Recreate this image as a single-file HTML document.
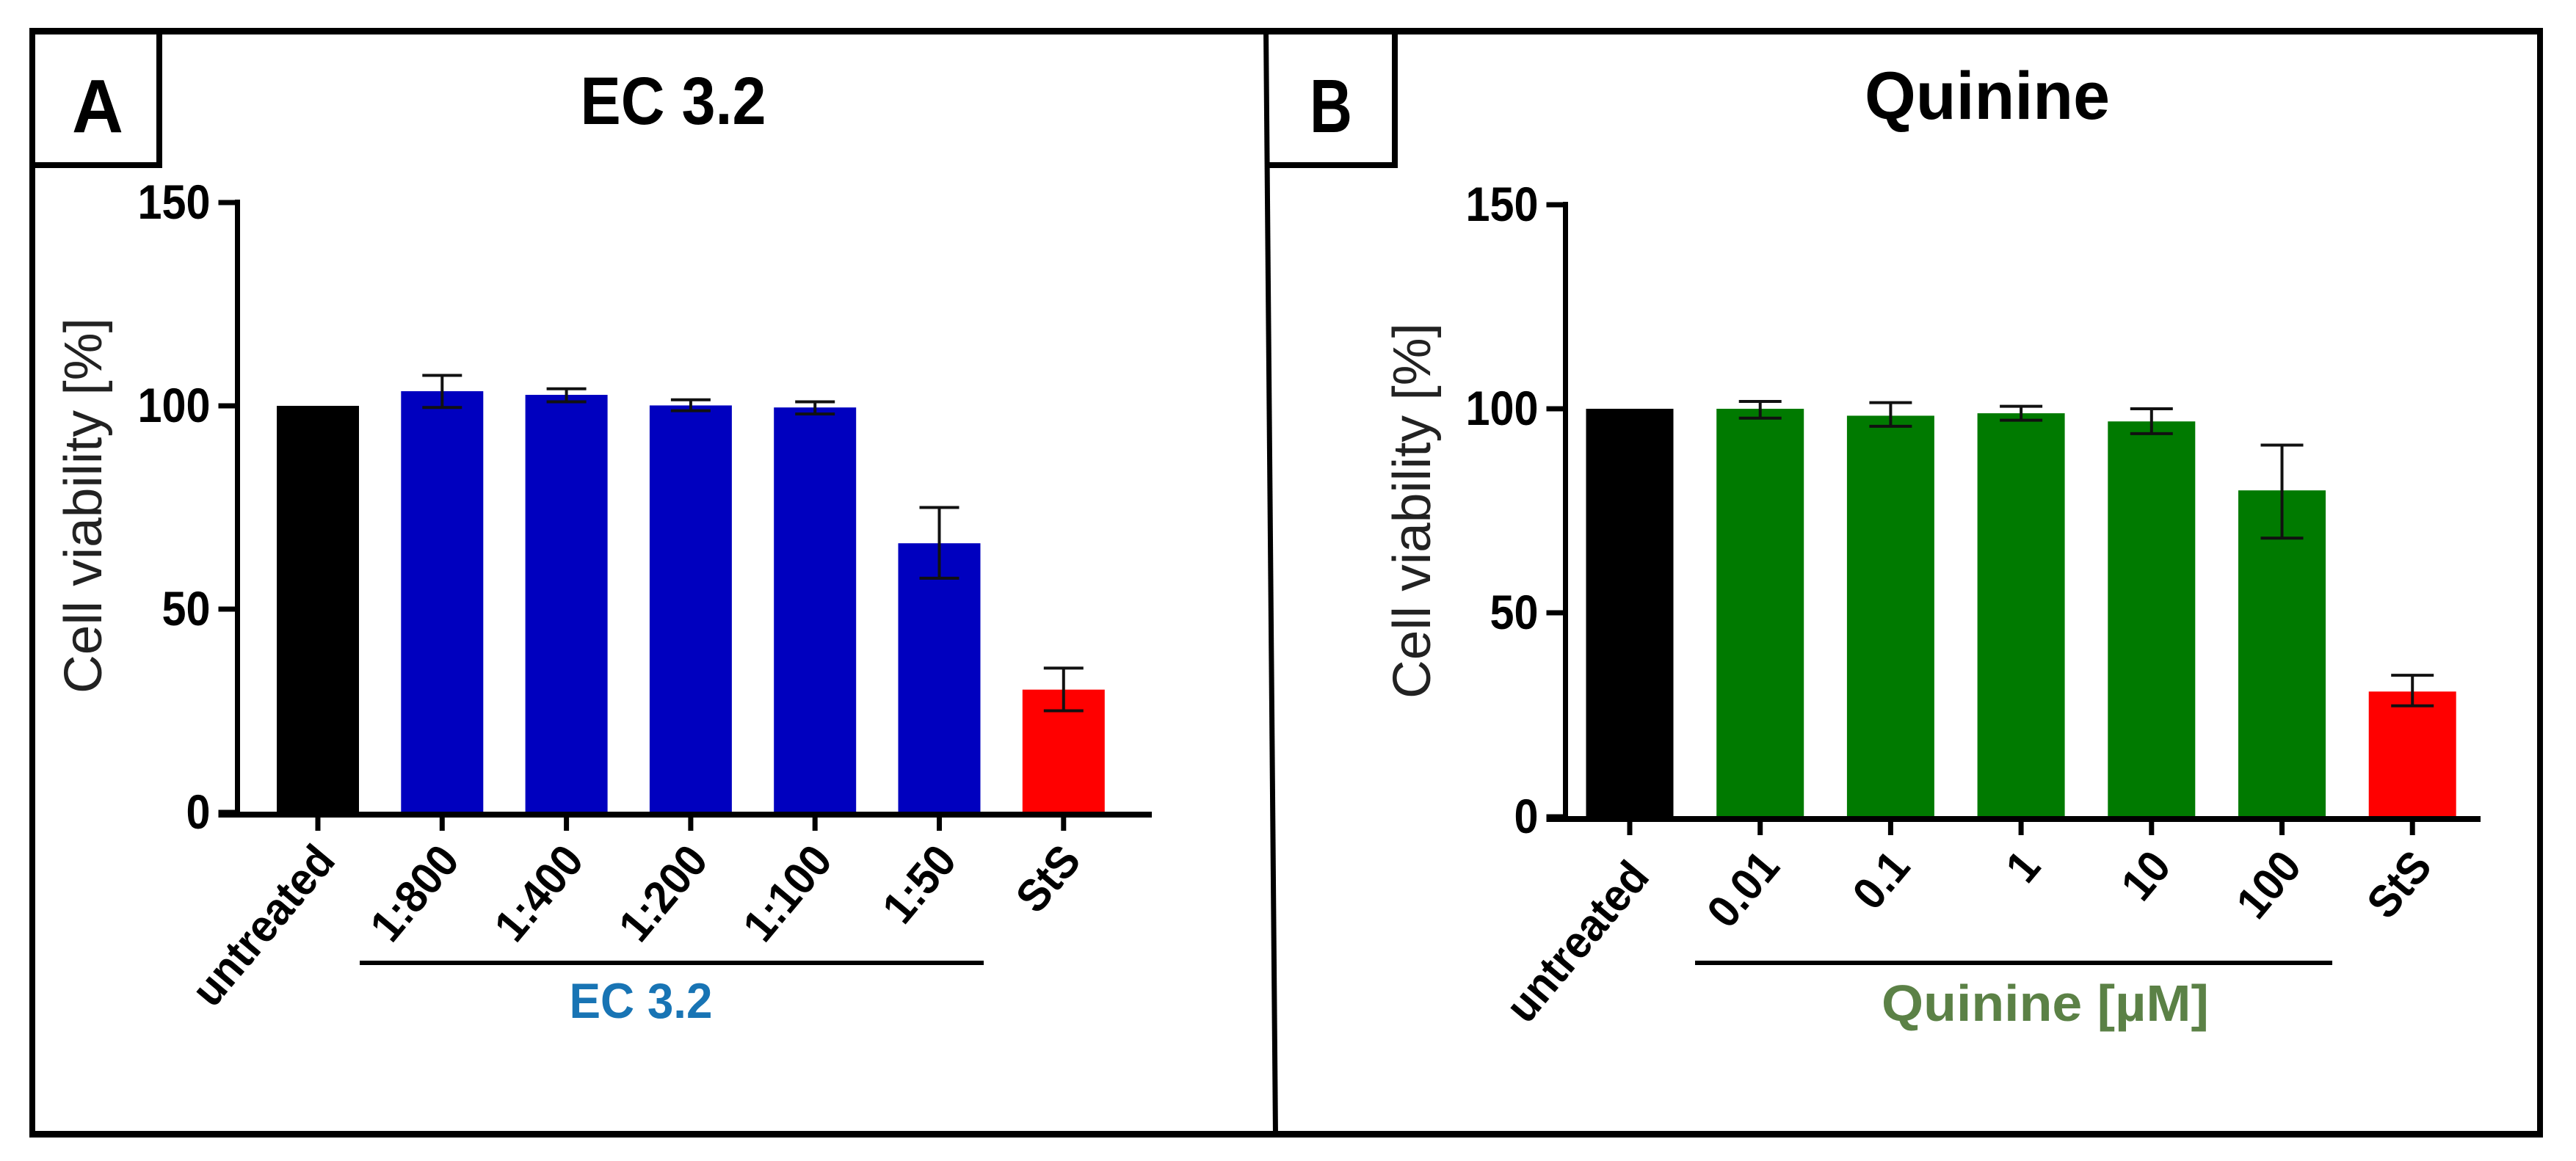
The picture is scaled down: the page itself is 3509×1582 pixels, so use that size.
<!DOCTYPE html>
<html lang="en">
<head>
<meta charset="utf-8">
<title>Cell viability: EC 3.2 and Quinine</title>
<style>
html,body{margin:0;padding:0;background:#fff;width:3509px;height:1582px;overflow:hidden}
svg{display:block}
text{font-family:"Liberation Sans",sans-serif}
</style>
</head>
<body>
<svg id="figure" xmlns="http://www.w3.org/2000/svg" width="3509" height="1582" viewBox="0 0 3509 1582">
  <rect x="0" y="0" width="3509" height="1582" fill="#fff"/>
  <g fill="#000">
    <rect x="40" y="38" width="3424" height="9"/>
    <rect x="40" y="1541" width="3424" height="9"/>
    <rect x="40" y="38" width="8" height="1512"/>
    <rect x="3456" y="38" width="8" height="1512"/>
    <line x1="1724.5" y1="40" x2="1737.5" y2="1548" stroke="#000" stroke-width="7"/>
    <rect x="213" y="38" width="8" height="191"/>
    <rect x="40" y="221" width="181" height="8"/>
    <rect x="1896" y="38" width="8" height="191"/>
    <rect x="1725" y="221" width="179" height="8"/>
  </g>
  <text x="133" y="180" font-size="103" font-weight="700" text-anchor="middle" textLength="70" lengthAdjust="spacingAndGlyphs">A</text>
  <text x="1813" y="180" font-size="103" font-weight="700" text-anchor="middle" textLength="58" lengthAdjust="spacingAndGlyphs">B</text>
  <text x="917" y="169" font-size="92" font-weight="700" text-anchor="middle" textLength="253" lengthAdjust="spacingAndGlyphs">EC 3.2</text>
  <text x="2707" y="162" font-size="92" font-weight="700" text-anchor="middle" textLength="334" lengthAdjust="spacingAndGlyphs">Quinine</text>
  <g id="panel-a"></g>
  <g id="panel-b"></g>
  <line x1="490" y1="1312" x2="1340" y2="1312" stroke="#000" stroke-width="6"/>
  <line x1="2309" y1="1312" x2="3177" y2="1312" stroke="#000" stroke-width="6"/>
  <text x="873" y="1387" font-size="68" font-weight="700" fill="#1874b4" text-anchor="middle" textLength="195" lengthAdjust="spacingAndGlyphs">EC 3.2</text>
  <text x="2786" y="1391" font-size="70" font-weight="700" fill="#5b8146" text-anchor="middle" textLength="446" lengthAdjust="spacingAndGlyphs">Quinine [µM]</text>
</svg>
<script>
// Panel A data
const categoriesA = ['untreated', '1:800', '1:400', '1:200', '1:100', '1:50', 'StS'];
const valuesA = [100, 103.6, 102.7, 100.1, 99.6, 66.2, 30.2];
const errorHighA = [100, 107.5, 104.2, 101.5, 101, 75, 35.5];
const errorLowA = [100, 99.6, 101, 98.8, 98, 57.6, 25];
// Panel B data
const categoriesB = ['untreated', '0.01', '0.1', '1', '10', '100', 'StS'];
const valuesB = [100, 100, 98.3, 98.9, 96.9, 80, 30.7];
const errorHighB = [100, 101.8, 101.5, 100.6, 100, 91.1, 34.7];
const errorLowB = [100, 97.7, 95.7, 97.2, 93.9, 68.3, 27.2];
const yTickLabels = [0, 50, 100, 150];

const NS = 'http://www.w3.org/2000/svg';
function mk(parent, tag, attrs) {
  const el = document.createElementNS(NS, tag);
  for (const k in attrs) el.setAttribute(k, attrs[k]);
  parent.appendChild(el);
  return el;
}

function drawPanel(id, prefix, cfg) {
  const root = document.getElementById(id);
  const xAt = i => cfg.x0 + i * cfg.pitch;
  const yAt = v => cfg.y0 - v * cfg.unit;

  // bars
  cfg.values.forEach((v, i) => {
    const color = i === 0 ? '#000000' : (i === cfg.values.length - 1 ? '#ff0000' : cfg.color);
    const bar = mk(root, 'rect', {x: xAt(i) - cfg.barW / 2, y: yAt(v), width: cfg.barW, height: cfg.y0 - yAt(v), fill: color});
    
    
  });

  // error bars
  cfg.values.forEach((v, i) => {
    if (cfg.high[i] === cfg.low[i]) return;
    const g = mk(root, 'g', {stroke: '#111', 'stroke-width': 4, fill: 'none'});
    
    
    const x = xAt(i);
    mk(g, 'line', {x1: x, x2: x, y1: yAt(cfg.high[i]), y2: yAt(cfg.low[i])});
    mk(g, 'line', {x1: x - cfg.capW / 2, x2: x + cfg.capW / 2, y1: yAt(cfg.high[i]), y2: yAt(cfg.high[i])});
    mk(g, 'line', {x1: x - cfg.capW / 2, x2: x + cfg.capW / 2, y1: yAt(cfg.low[i]), y2: yAt(cfg.low[i])});
  });

  // y axis
  const yAxis = mk(root, 'line', {x1: cfg.axisX, x2: cfg.axisX, y1: yAt(150) - 4, y2: cfg.y0 + 3, stroke: '#000', 'stroke-width': 7});
  
  
  yTickLabels.forEach(t => {
    const tick = mk(root, 'line', {x1: cfg.axisX - 26, x2: cfg.axisX, y1: yAt(t), y2: yAt(t), stroke: '#000', 'stroke-width': 7});
    
    
    const s = String(t);
    const label = mk(root, 'text', {x: cfg.axisX - 37, y: yAt(t) + cfg.tickDy, 'font-size': 66, 'font-weight': 700, 'text-anchor': 'end', textLength: s.length * 33, lengthAdjust: 'spacingAndGlyphs'});
    
    
    label.textContent = s;
  });

  // x axis
  const xAxis = mk(root, 'line', {x1: cfg.axisX - 26, x2: cfg.axisEnd, y1: cfg.y0 + 3, y2: cfg.y0 + 3, stroke: '#000', 'stroke-width': 8});
  
  
  cfg.categories.forEach((c, i) => {
    const tick = mk(root, 'line', {x1: xAt(i), x2: xAt(i), y1: cfg.y0 + 3, y2: cfg.y0 + 25, stroke: '#000', 'stroke-width': 7});
    
    
    const lx = xAt(i) + cfg.labelDx;
    const ly = cfg.y0 + cfg.labelDy + (i === 0 ? cfg.firstLabelDrop : 0);
    const label = mk(root, 'text', {x: lx, y: ly, 'font-size': 62, 'font-weight': 700, 'text-anchor': 'end', transform: 'rotate(-50 ' + lx + ' ' + ly + ')'});
    
    
    label.textContent = c;
    label.setAttribute('textLength', label.getComputedTextLength() * 0.93);
    label.setAttribute('lengthAdjust', 'spacingAndGlyphs');
  });

  // y title
  const title = mk(root, 'text', {x: cfg.titleX, y: cfg.titleY, 'font-size': 72, fill: '#222', 'text-anchor': 'middle', textLength: 512, lengthAdjust: 'spacingAndGlyphs', transform: 'rotate(-90 ' + cfg.titleX + ' ' + cfg.titleY + ')'});
  
  
  title.textContent = 'Cell viability [%]';
}

drawPanel('panel-a', 'panel-a', {
  categories: categoriesA, values: valuesA, high: errorHighA, low: errorLowA,
  color: '#0000bf', x0: 433, pitch: 169.3, barW: 112, capW: 54,
  y0: 1107, unit: 5.54, axisX: 323.5, axisEnd: 1569,
  tickDy: 22, labelDx: 26, labelDy: 67, firstLabelDrop: 0, titleX: 138, titleY: 689
});
drawPanel('panel-b', 'panel-b', {
  categories: categoriesB, values: valuesB, high: errorHighB, low: errorLowB,
  color: '#007a00', x0: 2220, pitch: 177.7, barW: 119, capW: 58,
  y0: 1113, unit: 5.56, axisX: 2132.5, axisEnd: 3379,
  tickDy: 22, labelDx: 29, labelDy: 69, firstLabelDrop: 14, titleX: 1948, titleY: 696
});
</script>
</body>
</html>
